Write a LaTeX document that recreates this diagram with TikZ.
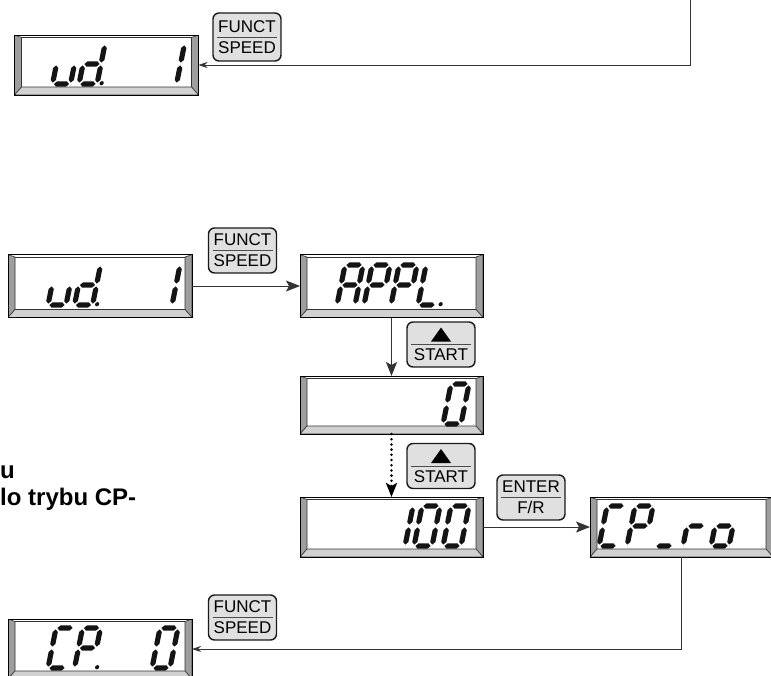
\documentclass[tikz,border=0pt]{standalone}
\usepackage{fontspec}
\setmainfont{Liberation Sans}
\usetikzlibrary{arrows.meta,calc}
\newcommand\hsg[3]{\fill (#1,#3) -- ++(2.6,-2.6) -- (#2-2.6,#3-2.6) -- (#2,#3) -- (#2-2.6,#3+2.6) -- (#1+2.6,#3+2.6) -- cycle;}
\newcommand\vsg[3]{\fill (#1,#2) -- ++(2.6,2.6) -- (#1+2.6,#3-2.6) -- (#1,#3) -- (#1-2.6,#3-2.6) -- (#1-2.6,#2+2.6) -- cycle;}
\newcommand\svA{\hsg{1.4}{16.6}{-40}}
\newcommand\svG{\hsg{1.4}{16.6}{-20}}
\newcommand\svD{\hsg{1.4}{16.6}{0}}
\newcommand\svF{\vsg{0}{-38.6}{-21.4}}
\newcommand\svE{\vsg{0}{-18.6}{-1.4}}
\newcommand\svB{\vsg{18}{-38.6}{-21.4}}
\newcommand\svC{\vsg{18}{-18.6}{-1.4}}
\newcommand\svP{\fill (22.5,-0.8) circle (2.1);}
\newcommand\sevseg[3]{\begin{scope}[shift={($(#1.west)+(#2,19)$)},xslant=0.2,black!92]\foreach \s in {#3}{\csname sv\s\endcsname}\end{scope}}
\begin{document}
\begin{tikzpicture}[x=1pt,y=-1pt,
  disp/.style={draw=black, line width=0.9pt, fill=white, minimum width=184pt, minimum height=60pt, inner sep=0pt, outer sep=0pt,
    path picture={
      \coordinate (pnw) at (path picture bounding box.north west);
      \coordinate (pne) at (path picture bounding box.north east);
      \coordinate (psw) at (path picture bounding box.south west);
      \coordinate (pse) at (path picture bounding box.south east);
      \filldraw[fill=black!38, draw=black!80, line width=0.6pt] (pnw) -- ($(pnw)+(7,2.5)$) -- ($(psw)+(7,-8)$) -- (psw) -- cycle;
      \filldraw[fill=black!38, draw=black!80, line width=0.6pt] (pne) -- ($(pne)+(-7,2.5)$) -- ($(pse)+(-7,-8)$) -- (pse) -- cycle;
      \filldraw[fill=black!18, draw=black!80, line width=0.6pt] (psw) -- ($(psw)+(7,-8)$) -- ($(pse)+(-7,-8)$) -- (pse) -- cycle;
      \draw[black!80, line width=0.6pt] ($(pnw)+(7,2.5)$) -- ($(pne)+(-7,2.5)$);
    }},
  keybtn/.style={draw=black!90, line width=1.4pt, rounded corners=6pt, fill=black!12, minimum width=68pt, minimum height=45pt, inner sep=0pt, align=center, font=\fontsize{17}{21}\selectfont,
    path picture={\draw[sharp corners, line width=0.8pt, black!70] ($(path picture bounding box.west)+(4,0)$) -- ($(path picture bounding box.east)+(-4,0)$);}},
  startbtn/.style={keybtn,
    path picture={\draw[sharp corners, line width=0.8pt, black!70] ($(path picture bounding box.west)+(4,0)$) -- ($(path picture bounding box.east)+(-4,0)$);
      \fill[sharp corners, black] ($(path picture bounding box.center)+(-10,-3)$) -- ($(path picture bounding box.center)+(10,-3)$) -- ($(path picture bounding box.center)+(0,-17)$) -- cycle;}},
  conn/.style={line width=0.9pt, draw=black!80},
  bigarrow/.style={-{Stealth[length=14pt 0 0,width=11pt 0 0,inset=3pt]}},
  smallarrow/.style={-{Stealth[length=9pt 0 0,width=6pt 0 0]}},
  dotline/.style={draw=black, line width=2.8pt, line cap=round, dash pattern=on 0pt off 5.2pt},
  note/.style={anchor=base west, inner sep=0pt, font=\bfseries\fontsize{24}{28}\selectfont}
]
\useasboundingbox (0,0) rectangle (771,675);

% displays
\node[disp] (A) at (106.5,65) {};
\node[disp, minimum height=63pt] (B) at (100,286) {};
\node[disp, minimum width=183pt, minimum height=63pt] (C) at (391.5,286) {};
\node[disp, minimum width=183pt, minimum height=58pt] (D) at (391.5,405) {};
\node[disp, minimum width=183pt] (E) at (391.5,527) {};
\node[disp, minimum width=183pt] (F) at (681.5,527) {};
\node[disp] (G) at (100,649) {};

% keys
\node[keybtn, minimum height=48pt] (K1) at (247,37) {FUNCT\\SPEED};
\node[keybtn] (K2) at (242.5,250.5) {FUNCT\\SPEED};
\node[startbtn] (K3) at (441,344.5) {\vphantom{S}\\START};
\node[startbtn] (K4) at (441,466) {\vphantom{S}\\START};
\node[keybtn] (K5) at (531,497.5) {ENTER\\F/R};
\node[keybtn] (K6) at (242.5,617.5) {FUNCT\\SPEED};

% connectors
\coordinate (topin) at (690,-3);
\draw[conn,smallarrow] (topin) |- (A.east);
\draw[conn,bigarrow] (B.east) -- (C.west);
\draw[conn,bigarrow] (C.south) -- (D.north);
\draw[dotline,bigarrow] (D.south) -- (E.north);
\draw[conn,bigarrow] (E.east) -- (F.west);
\draw[conn,smallarrow] (F.south) |- (G.east);

% seven-segment contents
\sevseg{A}{38}{C,D,E}\sevseg{A}{64.5}{B,C,D,E,G,P}\sevseg{A}{144}{B,C}
\sevseg{B}{40}{C,D,E}\sevseg{B}{66.5}{B,C,D,E,G,P}\sevseg{B}{146}{B,C}
\sevseg{C}{37}{A,B,C,E,F,G}\sevseg{C}{64}{A,B,E,F,G}\sevseg{C}{91}{A,B,E,F,G}\sevseg{C}{118}{D,E,F,P}
\sevseg{D}{143}{A,B,C,D,E,F}
\sevseg{E}{87}{B,C}\sevseg{E}{114}{A,B,C,D,E,F}\sevseg{E}{143}{A,B,C,D,E,F}
\sevseg{F}{9}{A,D,E,F}\sevseg{F}{37}{A,B,E,F,G}\sevseg{F}{65}{D}\sevseg{F}{93}{E,G}\sevseg{F}{121}{C,D,E,G}
\sevseg{G}{40}{A,D,E,F}\sevseg{G}{66.5}{A,B,E,F,G,P}\sevseg{G}{144}{A,B,C,D,E,F}

% text fragments
\node[note] (tu) at (0,478) {u};
\node[note] (tl) at (0,505) {lo trybu CP-};
\end{tikzpicture}
\end{document}
